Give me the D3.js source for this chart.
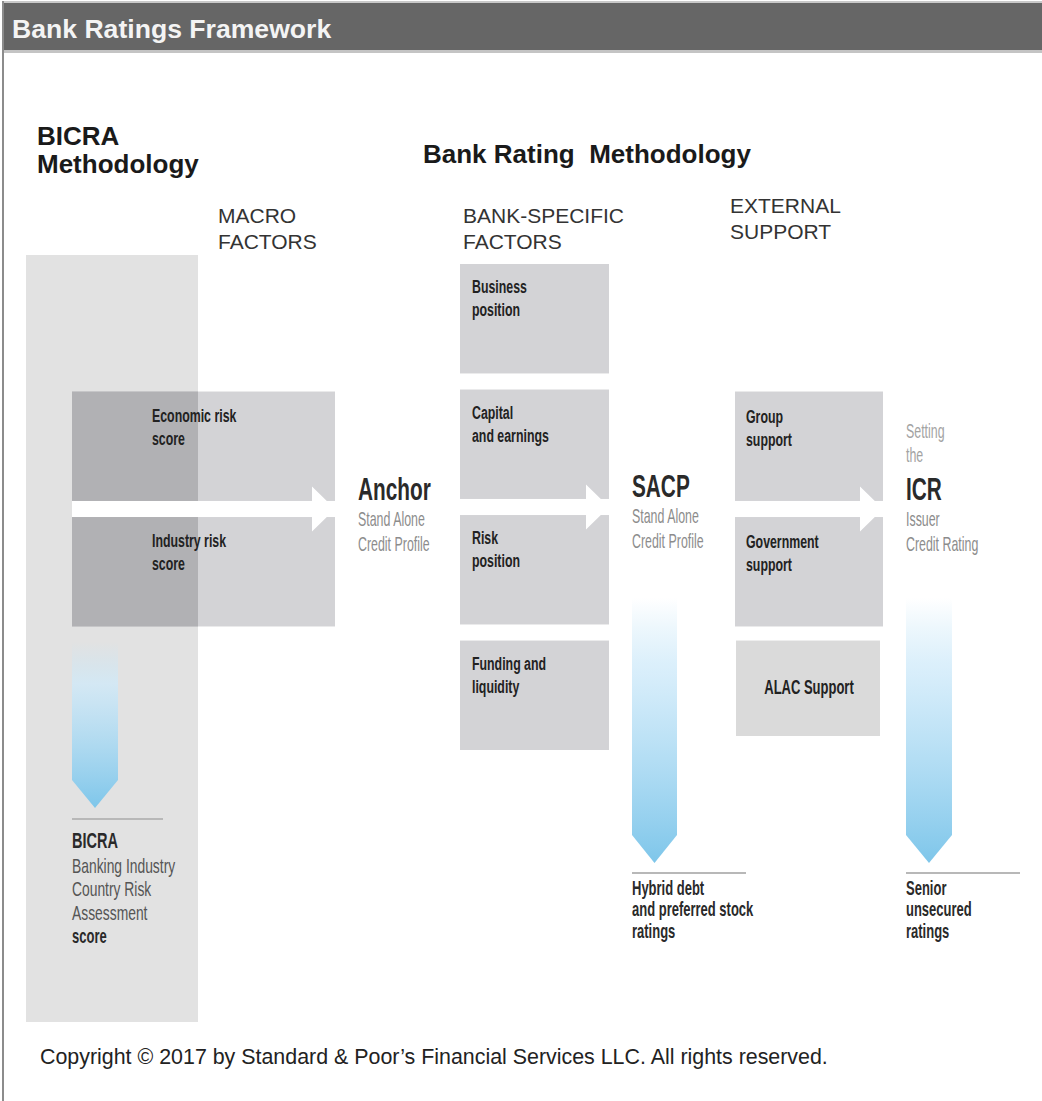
<!DOCTYPE html>
<html>
<head>
<meta charset="utf-8">
<script src="https://cdn.jsdelivr.net/npm/d3@7"></script>
<style>
  body { margin: 0; background: #fff; }
  svg { display: block; font-family: "Liberation Sans", Arial, sans-serif; }
</style>
</head>
<body>
<svg id="chart" width="1042" height="1101"></svg>
<script>
// Diagram content
const title = "Bank Ratings Framework";
const bicraHeading = ["BICRA", "Methodology"];
const bankHeading = "Bank Rating  Methodology";
const columnHeads = [["MACRO", "FACTORS"], ["BANK-SPECIFIC", "FACTORS"], ["EXTERNAL", "SUPPORT"]];
const macroFactors = [["Economic risk", "score"], ["Industry risk", "score"]];
const bankFactors = [["Business", "position"], ["Capital", "and earnings"], ["Risk", "position"], ["Funding and", "liquidity"]];
const externalFactors = [["Group", "support"], ["Government", "support"]];
const alacLabel = "ALAC Support";
const outcomes = [
    { name: "Anchor", pre: [], sub: ["Stand Alone", "Credit Profile"] },
    { name: "SACP", pre: [], sub: ["Stand Alone", "Credit Profile"] },
    { name: "ICR", pre: ["Setting", "the"], sub: ["Issuer", "Credit Rating"] }
];
const bicraOutput = { head: "BICRA", lines: ["Banking Industry", "Country Risk", "Assessment"], tail: "score" };
const ratingOutputs = [["Hybrid debt", "and preferred stock", "ratings"], ["Senior", "unsecured", "ratings"]];
const copyright = "Copyright \u00A9 2017 by Standard & Poor\u2019s Financial Services LLC. All rights reserved.";

// Layout
const svg = d3.select("#chart");
const W = 1042, H = 1101;

const rowY = d3.scaleBand().domain([0, 1, 2, 3]).range([264, 750]).paddingInner(0.128);
const cols = {
    bicra: [26, 198],
    macro: [72, 335],
    bank: [460, 609],
    external: [735, 883]
};
const boxFill = "#d3d3d6";
const overlapFill = "#b1b1b4";

// condensed text helper (horizontal squeeze)
function cText(sel, lines, x, y, o) {
    const t = sel.append("text")
        .attr("transform", `translate(${x},${y}) scale(${o.sx},1)`)
        .attr("font-size", o.size)
        .attr("font-weight", o.weight || "normal")
        .attr("fill", o.fill || "#222");
    if (o.anchor) t.attr("text-anchor", o.anchor);
    lines.forEach((s, i) => t.append("tspan").attr("x", 0).attr("dy", i ? o.lh : 0).text(s));
    return t;
}

// gradient for blue arrows
const defs = svg.append("defs");
const grad = defs.append("linearGradient").attr("id", "blueDown")
    .attr("x1", 0).attr("y1", 0).attr("x2", 0).attr("y2", 1);
grad.append("stop").attr("offset", "0%").attr("stop-color", "#c6e6f7").attr("stop-opacity", 0);
grad.append("stop").attr("offset", "25%").attr("stop-color", "#cfeafa").attr("stop-opacity", 0.75);
grad.append("stop").attr("offset", "100%").attr("stop-color", "#7ec6ea").attr("stop-opacity", 1);

// header bar + frame
svg.append("rect").attr("x", 3).attr("y", 1).attr("width", W - 3).attr("height", 2).attr("fill", "#c9c9c9");
svg.append("rect").attr("x", 3).attr("y", 3).attr("width", W - 3).attr("height", 47).attr("fill", "#666666");
svg.append("rect").attr("x", 3).attr("y", 50).attr("width", W - 3).attr("height", 3).attr("fill", "#c4c4c4");
svg.append("line").attr("x1", 3).attr("x2", 3).attr("y1", 1).attr("y2", H)
    .attr("stroke", "#8c8c8c").attr("stroke-width", 2);
svg.append("text").attr("x", 12).attr("y", 38)
    .attr("font-size", 26.6).attr("font-weight", "bold").attr("fill", "#f4f4f4")
    .text(title);

// headings
const hd = svg.append("text").attr("font-size", 26).attr("font-weight", "bold").attr("fill", "#1a1a1a");
bicraHeading.forEach((s, i) => hd.append("tspan").attr("x", 37).attr("y", 145 + i * 28).text(s));
svg.append("text").attr("x", 423).attr("y", 163)
    .attr("font-size", 26).attr("font-weight", "bold").attr("fill", "#1a1a1a")
    .style("white-space", "pre").text(bankHeading);

const headPos = [[218, 223], [463, 223], [730, 213]];
columnHeads.forEach((lines, i) => {
    const t = svg.append("text").attr("font-size", 21).attr("fill", "#333");
    lines.forEach((s, j) => t.append("tspan").attr("x", headPos[i][0]).attr("y", headPos[i][1] + j * 26).text(s));
});

// BICRA column
svg.append("rect")
    .attr("x", cols.bicra[0]).attr("y", 255)
    .attr("width", cols.bicra[1] - cols.bicra[0]).attr("height", 1022 - 255)
    .attr("fill", "#e2e2e2");

// Macro factor boxes (rows 1,2) with overlap shading
const macroG = svg.append("g");
macroG.selectAll("rect.box").data(macroFactors).join("rect")
    .attr("class", "box")
    .attr("x", cols.macro[0]).attr("y", (d, i) => rowY(i + 1) + 2)
    .attr("width", cols.macro[1] - cols.macro[0]).attr("height", rowY.bandwidth())
    .attr("fill", boxFill);
macroG.selectAll("rect.ov").data(macroFactors).join("rect")
    .attr("class", "ov")
    .attr("x", cols.macro[0]).attr("y", (d, i) => rowY(i + 1) + 2)
    .attr("width", cols.bicra[1] - cols.macro[0]).attr("height", rowY.bandwidth())
    .attr("fill", overlapFill);

// Bank-specific boxes
svg.append("g").selectAll("rect").data(bankFactors).join("rect")
    .attr("x", cols.bank[0]).attr("y", (d, i) => rowY(i))
    .attr("width", cols.bank[1] - cols.bank[0]).attr("height", rowY.bandwidth())
    .attr("fill", boxFill);

// External support boxes
svg.append("g").selectAll("rect").data(externalFactors).join("rect")
    .attr("x", cols.external[0]).attr("y", (d, i) => rowY(i + 1) + 2)
    .attr("width", cols.external[1] - cols.external[0]).attr("height", rowY.bandwidth())
    .attr("fill", boxFill);
svg.append("rect")
    .attr("x", cols.external[0] + 1).attr("y", rowY(3))
    .attr("width", cols.external[1] - cols.external[0] - 4).attr("height", rowY.bandwidth() - 14)
    .attr("fill", "#dadada");

// White right-pointing arrows between row 1 and row 2
function rightArrow(x0, tip, yTopBoxEnd, yNextBox) {
    const mid = (yTopBoxEnd + yNextBox) / 2, depth = 23, half = 22.5;
    svg.append("path")
        .attr("d", `M${x0},${yTopBoxEnd} H${tip - depth} V${mid - half} L${tip},${mid} L${tip - depth},${mid + half} V${yNextBox} H${x0} Z`)
        .attr("fill", "#fff");
}
const gapTop = rowY(1) + rowY.bandwidth();
const gapBot = rowY(2);
rightArrow(cols.macro[0], cols.macro[1], gapTop + 2, gapBot + 2);
rightArrow(cols.bank[0], cols.bank[1], gapTop, gapBot);
rightArrow(cols.external[0], cols.external[1], gapTop + 2, gapBot + 2);

// box labels
const boxLbl = { size: 19, weight: "bold", sx: 0.65, lh: 23, fill: "#222" };
macroFactors.forEach((lines, i) => cText(svg, lines, 152, rowY(i + 1) + 2 + 30, boxLbl));
bankFactors.forEach((lines, i) => cText(svg, lines, 472, rowY(i) + 29, boxLbl));
externalFactors.forEach((lines, i) => cText(svg, lines, 746, rowY(i + 1) + 2 + 31, boxLbl));
cText(svg, [alacLabel], (cols.external[0] + cols.external[1]) / 2, rowY(3) + 53,
    Object.assign({}, boxLbl, { size: 20, anchor: "middle" }));

// Outcome labels: Anchor, SACP, ICR
const outX = [358, 632, 906];
const outY = [500, 497, 500];
outcomes.forEach((o, i) => {
    cText(svg, [o.name], outX[i], outY[i], { size: 32, weight: "bold", sx: 0.65, fill: "#2a2a2a" });
    cText(svg, o.sub, outX[i], outY[i] + 26, { size: 20, sx: 0.62, lh: 25, fill: "#8c8c8c" });
    if (o.pre.length) cText(svg, o.pre, outX[i], outY[i] - 62, { size: 20, sx: 0.62, lh: 24, fill: "#a3a3a3" });
});

// Blue downward arrows
const downArrows = [
    { x: 72, w: 46, top: 642, shaftEnd: 780 },
    { x: 632, w: 45, top: 598, shaftEnd: 835 },
    { x: 906, w: 46, top: 598, shaftEnd: 835 }
];
svg.append("g").selectAll("path").data(downArrows).join("path")
    .attr("d", d => `M${d.x},${d.top} H${d.x + d.w} V${d.shaftEnd} L${d.x + d.w / 2},${d.shaftEnd + 28} L${d.x},${d.shaftEnd} Z`)
    .attr("fill", "url(#blueDown)");

// underlines
const rules = [[72, 163, 819], [632, 746, 873], [906, 1020, 873]];
svg.append("g").selectAll("line").data(rules).join("line")
    .attr("x1", d => d[0]).attr("x2", d => d[1])
    .attr("y1", d => d[2]).attr("y2", d => d[2])
    .attr("stroke", "#b8b8b8").attr("stroke-width", 2);

// BICRA output
cText(svg, [bicraOutput.head], 72, 848, { size: 22, weight: "bold", sx: 0.66, fill: "#2a2a2a" });
cText(svg, bicraOutput.lines, 72, 873, { size: 21, sx: 0.66, lh: 23.5, fill: "#555" });
cText(svg, [bicraOutput.tail], 72, 943, { size: 20, weight: "bold", sx: 0.65, fill: "#2a2a2a" });

// rating outputs
ratingOutputs.forEach((lines, i) =>
    cText(svg, lines, [632, 906][i], 895, { size: 20, weight: "bold", sx: 0.65, lh: 21.5, fill: "#2a2a2a" }));

// copyright
svg.append("text").attr("x", 40).attr("y", 1064)
    .attr("font-size", 21.4).attr("fill", "#222").text(copyright);
</script>
</body>
</html>
